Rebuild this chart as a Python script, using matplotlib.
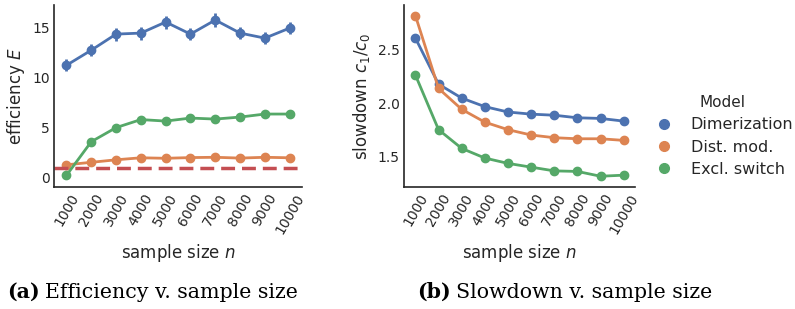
import matplotlib.pyplot as plt
import numpy as np

# sample sizes (categorical x)
sizes = ["1000", "2000", "3000", "4000", "5000", "6000", "7000", "8000", "9000", "10000"]

# efficiency E
eff_dimer = [11.2, 12.7, 14.3, 14.4, 15.5, 14.3, 15.7, 14.4, 13.9, 14.9]
eff_dimer_err = [0.6, 0.6, 0.65, 0.65, 0.65, 0.6, 0.65, 0.6, 0.6, 0.6]
eff_dist = [1.3, 1.55, 1.8, 2.0, 1.95, 2.02, 2.05, 1.97, 2.05, 2.0]
eff_excl = [0.25, 3.6, 5.0, 5.8, 5.65, 5.95, 5.85, 6.05, 6.35, 6.35]

# slowdown c1/c0
slow_dimer = [2.61, 2.18, 2.05, 1.97, 1.92, 1.90, 1.89, 1.866, 1.86, 1.835]
slow_dist = [2.82, 2.14, 1.945, 1.825, 1.755, 1.705, 1.68, 1.67, 1.67, 1.655]
slow_excl = [2.265, 1.755, 1.58, 1.49, 1.44, 1.405, 1.37, 1.365, 1.32, 1.33]

models = ["Dimerization", "Dist. mod.", "Excl. switch"]
colors = ["#4C72B0", "#DD8452", "#55A868"]
red = "#C44E52"
ink = "#262626"

plt.rcParams['font.family'] = 'DejaVu Sans'
fig = plt.figure(figsize=(7.95, 3.09), dpi=100)
ax1 = fig.add_axes([0.068, 0.395, 0.312, 0.589])
ax2 = fig.add_axes([0.508, 0.395, 0.291, 0.589])

x = np.arange(len(sizes))

ax1.errorbar(x, eff_dimer, yerr=eff_dimer_err, color=colors[0], marker='o', ms=6,
             lw=2, elinewidth=2, capsize=0)
ax1.plot(x, eff_dist, color=colors[1], marker='o', ms=6, lw=2)
ax1.plot(x, eff_excl, color=colors[2], marker='o', ms=6, lw=2)
ax1.axhline(1.0, color=red, ls='--', lw=2.5, dashes=(4, 2))
ax1.set_ylim(-0.9, 17.2)
ax1.set_yticks([0, 5, 10, 15])
ax1.set_ylabel("efficiency $E$", fontsize=12, color=ink)

for vals, c in zip([slow_dimer, slow_dist, slow_excl], colors):
    ax2.plot(x, vals, color=c, marker='o', ms=6, lw=2)
ax2.set_ylim(1.22, 2.92)
ax2.set_yticks([1.5, 2.0, 2.5])
ax2.set_ylabel("slowdown $c_1/c_0$", fontsize=12, color=ink)

for ax in (ax1, ax2):
    ax.set_xlim(-0.5, len(sizes) - 0.5)
    ax.set_xticks(x)
    ax.set_xticklabels(sizes, rotation=60)
    ax.set_xlabel("sample size $n$", fontsize=12, color=ink)
    ax.tick_params(labelsize=10, colors=ink, length=0, pad=3)
    for s in ['top', 'right']:
        ax.spines[s].set_visible(False)
    for s in ['left', 'bottom']:
        ax.spines[s].set_color(ink)
        ax.spines[s].set_linewidth(1.2)

handles = [plt.Line2D([], [], ls='none', marker='o', ms=7, color=c) for c in colors]
leg = fig.legend(handles, models, title="Model", loc='center left',
                 bbox_to_anchor=(0.8125, 0.56), frameon=False, fontsize=11.5,
                 title_fontsize=11, handlelength=1.5, handletextpad=0.9,
                 labelspacing=0.45, borderaxespad=0)
for t in leg.get_texts():
    t.set_color(ink)
leg.get_title().set_color(ink)

# captions: bold "(a)" / "(b)" followed by normal text
fig.canvas.draw()
renderer = fig.canvas.get_renderer()
for x0, tag, rest in [(7, "(a)", "Efficiency v. sample size"),
                      (417, "(b)", "Slowdown v. sample size")]:
    t1 = fig.text(x0 / 795, 11 / 309, tag, family='DejaVu Serif', weight='bold',
                  fontsize=14.8, color='black')
    bb = t1.get_window_extent(renderer)
    fig.text((bb.x1 + 5) / 795, 11 / 309, rest, family='DejaVu Serif',
             fontsize=14.8, color='black')

fig.savefig("out.png", dpi=100)
